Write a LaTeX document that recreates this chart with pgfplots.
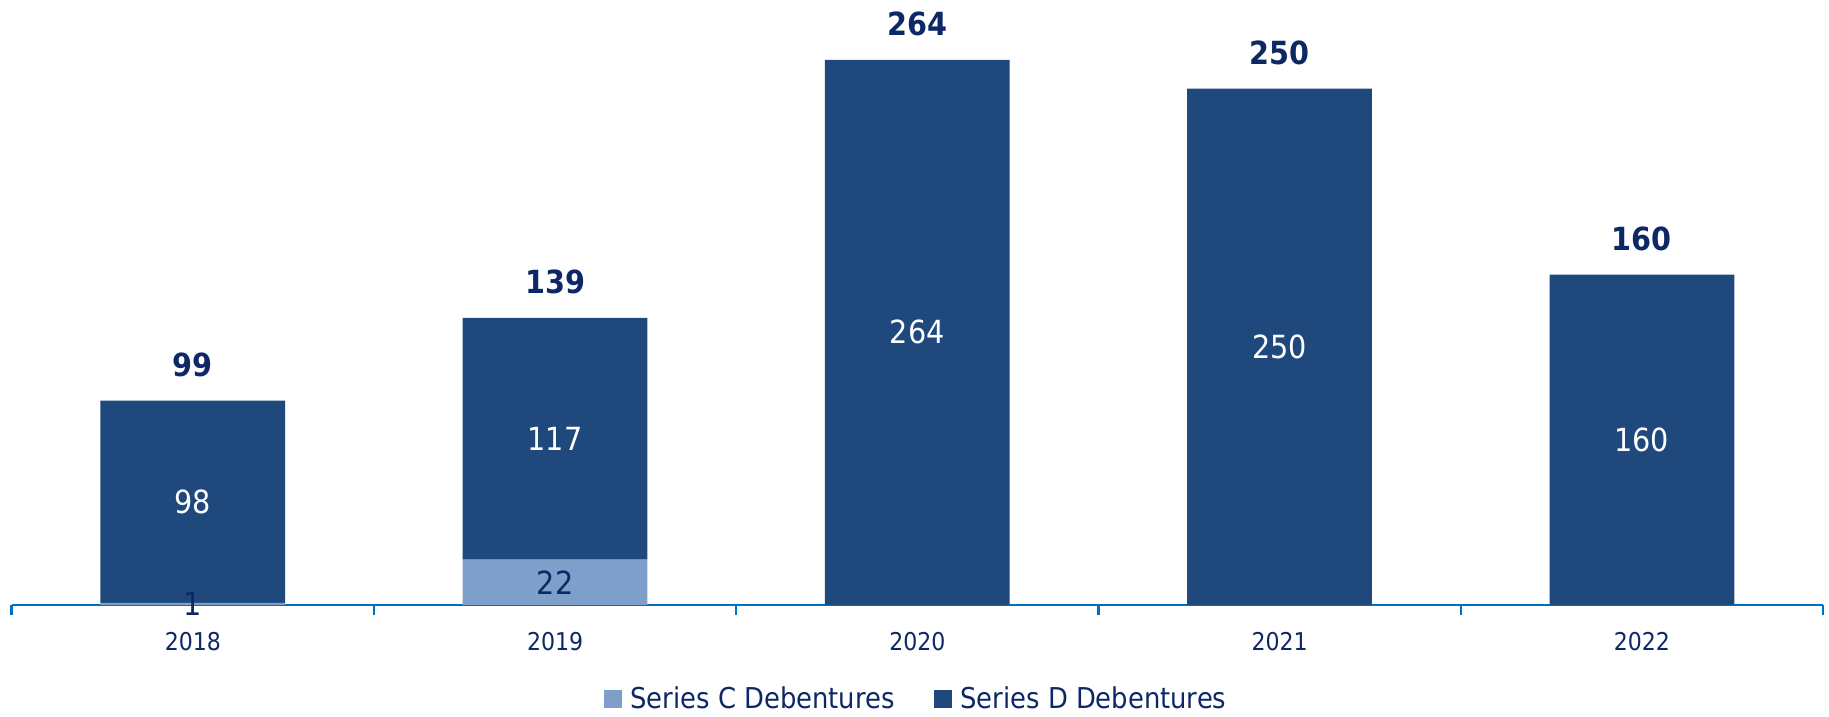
\documentclass[border=0pt]{standalone}
\usepackage{pgfplots}
\pgfplotsset{compat=1.18}
\usepackage{fontspec}
\setmainfont{DejaVu Sans Condensed}
\definecolor{serC}{RGB}{127,159,203}
\definecolor{serD}{RGB}{31,73,125}
\definecolor{navy}{RGB}{14,40,102}
\definecolor{axblue}{RGB}{0,112,192}
\pgfplotsset{
  common/.style={
    at={(5.85bp,56bp)}, anchor=south west,
    scale only axis, width=905.65bp, height=300.5bp,
    xmin=-0.5, xmax=4.5, ymin=0, ymax=291,
  }
}
\begin{document}
\begin{tikzpicture}
\path[use as bounding box] (0,0) rectangle (914.5bp,358.5bp);
\begin{axis}[common,
  ybar stacked, bar width=0.51,
  axis y line=none, axis x line*=bottom,
  x axis line style={axblue, line width=1.2bp, -},
  xtick={0,1,2,3,4}, xticklabels={2018,2019,2020,2021,2022},
  major tick length=0,
  minor xtick={-0.5,0.5,1.5,2.5,3.5,4.5},
  minor tick length=5bp, tick align=outside,
  minor tick style={axblue, line width=1.2bp},
  xticklabel style={font=\fontsize{12.3}{14}\selectfont, text=navy, yshift=-10bp},
  legend style={at={(0.5,0)}, anchor=center, yshift=-47bp, draw=none, fill=none,
    legend columns=2, font=\fontsize{14.4}{16}\selectfont, text=navy,
    /tikz/every odd column/.append style={column sep=2bp},
    /tikz/every even column/.append style={column sep=18bp}},
  legend image code/.code={\fill[#1] (0bp,-4.5bp) rectangle (9bp,4.5bp);},
]
\addplot[fill=serC, draw=none] coordinates {(0,1) (1,22) (2,0) (3,0) (4,0)};
\addlegendentry{Series C Debentures}
\addplot[fill=serD, draw=none] coordinates {(0,98) (1,117) (2,264) (3,250) (4,160)};
\addlegendentry{Series D Debentures}
\end{axis}
\begin{axis}[common, hide axis, clip=false]
\addplot[draw=none, nodes near coords, point meta=explicit symbolic,
  every node near coord/.style={anchor=center, text=white, font=\fontsize{16}{18}\selectfont}]
  coordinates {(0,50)[98] (1,80.5)[117] (2,132)[264] (3,125)[250] (4,80)[160]};
\addplot[draw=none, nodes near coords, point meta=explicit symbolic,
  every node near coord/.style={anchor=center, text=navy, font=\fontsize{16}{18}\selectfont}]
  coordinates {(0,0.5)[1] (1,11)[22]};
\addplot[draw=none, nodes near coords, point meta=explicit symbolic,
  every node near coord/.style={anchor=center, text=navy, yshift=18bp, font=\bfseries\fontsize{16}{18}\selectfont}]
  coordinates {(0,99)[99] (1,139)[139] (2,264)[264] (3,250)[250] (4,160)[160]};
\end{axis}
\end{tikzpicture}
\end{document}
